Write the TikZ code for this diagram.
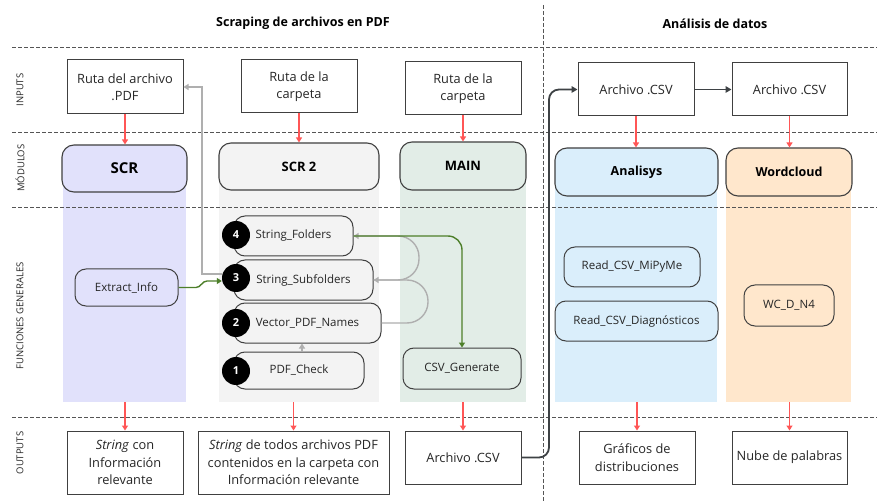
\documentclass[tikz,border=0pt]{standalone}
\usepackage{fontspec}
\setmainfont{Open Sans}
\usetikzlibrary{arrows.meta}
\definecolor{linegray}{HTML}{404040}
\definecolor{txt}{HTML}{262626}
\definecolor{arrred}{HTML}{FF5656}
\definecolor{conngray}{HTML}{AFAFAF}
\definecolor{conngreen}{HTML}{4D7F2A}
\definecolor{conndark}{HTML}{3E4245}
\definecolor{sepgray}{HTML}{555555}
\definecolor{cScr}{HTML}{E1E1FB}
\definecolor{cScrTwo}{HTML}{F3F3F3}
\definecolor{cMain}{HTML}{E2EDE7}
\definecolor{cAna}{HTML}{DAEEFB}
\definecolor{cWord}{HTML}{FFE7CC}
\begin{document}
\begin{tikzpicture}[x=1pt,y=-1pt,
  plainbox/.style={draw=linegray, line width=1pt, fill=white, align=center, inner sep=2pt, text=txt, font=\fontsize{12.8}{17.5}\selectfont},
  modbox/.style={draw=linegray, line width=1.1pt, rounded corners=12pt, text=black, font=\bfseries\fontsize{13}{15}\selectfont},
  funbox/.style={draw=linegray, line width=1pt, rounded corners=11pt, text=txt, font=\fontsize{11.5}{13}\selectfont},
  numc/.style={circle, fill=black, text=white, font=\bfseries\fontsize{11}{11}\selectfont, minimum size=28pt, inner sep=0pt},
  redarr/.style={draw=arrred, line width=1.2pt, -{Triangle[length=5pt,width=6pt]}},
  grayarr/.style={draw=conngray, line width=1.4pt, -{Triangle[length=5pt,width=6pt]}},
  greenarr/.style={draw=conngreen, line width=1.4pt, -{Triangle[length=5pt,width=6pt]}},
  darkarr/.style={draw=conndark, line width=1.8pt, -{Triangle[length=6pt,width=6.5pt]}},
  sepline/.style={draw=sepgray, line width=0.8pt, dash pattern=on 4pt off 2pt},
  rowlabel/.style={rotate=90, text=txt, font=\fontsize{9.5}{11}\selectfont},
  title/.style={text=black, font=\bfseries\fontsize{12.5}{14}\selectfont}
]
\useasboundingbox (0,0) rectangle (877,502);
\fill[white] (0,0) rectangle (877,502);

% column backgrounds
\fill[cScr]    (63,170) rectangle (186,402);
\fill[cScrTwo] (219,170) rectangle (379,402);
\fill[cMain]   (400,170) rectangle (526,402);
\fill[cAna]    (555,172) rectangle (717,402);
\fill[cWord]   (726,172) rectangle (851,402);

% separators
\draw[sepline] (12,47) -- (877,47);
\draw[sepline] (12,132) -- (877,132);
\draw[sepline] (12,207) -- (877,207);
\draw[sepline] (12,417) -- (877,417);
\draw[sepline] (543,5) -- (543,502);

% titles
\node[title] (t1) at (303,23) {Scraping de archivos en PDF};
\node[title] (t2) at (715,24) {Análisis de datos};

% row labels
\node[rowlabel] (r1) at (20,90) {INPUTS};
\node[rowlabel] (r2) at (20,168) {MÓDULOS};
\node[rowlabel] (r3) at (20,316) {FUNCIONES GENERALES};
\node[rowlabel] (r4) at (20,453) {OUTPUTS};

% inputs
\node[plainbox, minimum width=116pt, minimum height=54pt] (in1) at (125,87) {Ruta del archivo\\.PDF};
\node[plainbox, minimum width=116pt, minimum height=53pt] (in2) at (299,86.5) {Ruta de la\\carpeta};
\node[plainbox, minimum width=116pt, minimum height=53pt] (in3) at (463,88.5) {Ruta de la\\carpeta};
\node[plainbox, minimum width=116pt, minimum height=53pt] (in4) at (636,89.5) {Archivo .CSV};
\node[plainbox, minimum width=115pt, minimum height=53pt] (in5) at (789.5,89.5) {Archivo .CSV};

% modules
\node[modbox, fill=cScr, minimum width=125pt, minimum height=47pt, font=\bfseries\fontsize{15}{17}\selectfont] (m1) at (124.5,168.5) {SCR};
\node[modbox, fill=cScrTwo, minimum width=160pt, minimum height=47pt] (m2) at (299,166.5) {SCR 2};
\node[modbox, fill=cMain, minimum width=126pt, minimum height=48pt] (m3) at (463,166) {MAIN};
\node[modbox, fill=cAna, minimum width=163pt, minimum height=48pt, font=\bfseries\fontsize{12.5}{14}\selectfont] (m4) at (636.5,172) {Analisys};
\node[modbox, fill=cWord, minimum width=126pt, minimum height=48pt, font=\bfseries\fontsize{12.5}{14}\selectfont] (m5) at (789,172) {Wordcloud};

% functions
\node[funbox, fill=cScr, minimum width=103pt, minimum height=37pt] (fext) at (126.5,287.5) {Extract\_Info};
\node[funbox, fill=cScrTwo, minimum width=119pt, minimum height=40pt] (f4) at (293.5,236) {String\_Folders};
\node[funbox, fill=cScrTwo, minimum width=139pt, minimum height=40pt] (f3) at (303.5,280) {String\_Subfolders};
\node[funbox, fill=cScrTwo, minimum width=147pt, minimum height=40pt] (f2) at (307.5,323) {Vector\_PDF\_Names};
\node[funbox, fill=cScrTwo, minimum width=130pt, minimum height=37pt] (f1) at (299,370.5) {PDF\_Check};
\node[funbox, fill=cMain, minimum width=118pt, minimum height=41pt] (fcsv) at (462,368.5) {CSV\_Generate};
\node[funbox, fill=cAna, minimum width=136pt, minimum height=40pt] (fmip) at (632,267) {Read\_CSV\_MiPyMe};
\node[funbox, fill=cAna, minimum width=163pt, minimum height=40pt] (fdiag) at (636.5,321) {Read\_CSV\_Diagnósticos};
\node[funbox, fill=cWord, minimum width=90pt, minimum height=41pt] (fwc) at (789,305.5) {WC\_D\_N4};

% number circles
\node[numc] (n4) at (236,235) {4};
\node[numc] (n3) at (236,278) {3};
\node[numc] (n2) at (236,323) {2};
\node[numc] (n1) at (236,371) {1};

% outputs
\node[plainbox, minimum width=116pt, minimum height=63pt] (o1) at (125,462.5) {\textit{String} con\\Información\\relevante};
\node[plainbox, minimum width=191pt, minimum height=63pt] (o2) at (293.5,462.5) {\textit{String} de todos archivos PDF\\contenidos en la carpeta con\\Información relevante};
\node[plainbox, minimum width=116pt, minimum height=53pt] (o3) at (463,457.5) {Archivo .CSV};
\node[plainbox, minimum width=116pt, minimum height=53pt] (o4) at (637,457.5) {Gráficos de\\distribuciones};
\node[plainbox, minimum width=115pt, minimum height=53pt] (o5) at (789.5,457.5) {Nube de palabras};

% bottom of columns
\coordinate (cb) at (0,402);

% red arrows
\draw[redarr] (in1.south) -- (in1.south |- m1.north);
\draw[redarr] (in2.south) -- (in2.south |- m2.north);
\draw[redarr] (in3.south) -- (in3.south |- m3.north);
\draw[redarr] (in4.south) -- (in4.south |- m4.north);
\draw[redarr] (in5.south) -- (in5.south |- m5.north);
\draw[redarr] (o1.north |- cb) -- (o1.north);
\draw[redarr] (o2.north |- cb) -- (o2.north);
\draw[redarr] (o3.north |- cb) -- (o3.north);
\draw[redarr] (o4.north |- cb) -- (o4.north);
\draw[redarr] (o5.north |- cb) -- (o5.north);

% gray connectors
\coordinate (gturn) at (202,0);
\draw[grayarr] ([yshift=4pt]n3.west) -| (gturn |- in1.east) -- (in1.east);
\coordinate (gc1) at (428,0);
\coordinate (gc2) at (419,0);
\draw[grayarr, rounded corners=21pt] (f2.east) -- (gc1 |- f2.east) -- (gc1 |- f3.east) -- (f3.east);
\draw[grayarr, rounded corners=21pt] (f3.east) -- (gc2 |- f3.east) -- (gc2 |- f4.east) -- (f4.east);
\draw[grayarr] ([xshift=3pt]f1.north) -- ([xshift=3pt]f1.north |- f2.south);

% green connectors
\coordinate (gg1) at (196,287.5);
\coordinate (gg2) at (207,281);
\draw[greenarr] (fext.east) -- (gg1) to[out=0,in=180] (gg2) -- ([yshift=-3pt]n3.west);
\draw[greenarr, rounded corners=14pt] (f4.east) -| (fcsv.north);

% dark connectors
\coordinate (dturn) at (549,0);
\draw[darkarr, rounded corners=10pt] (o3.east) -| (dturn |- in4.west) -- (in4.west);
\draw[darkarr] (in4.east) -- (in5.west);
\end{tikzpicture}
\end{document}
